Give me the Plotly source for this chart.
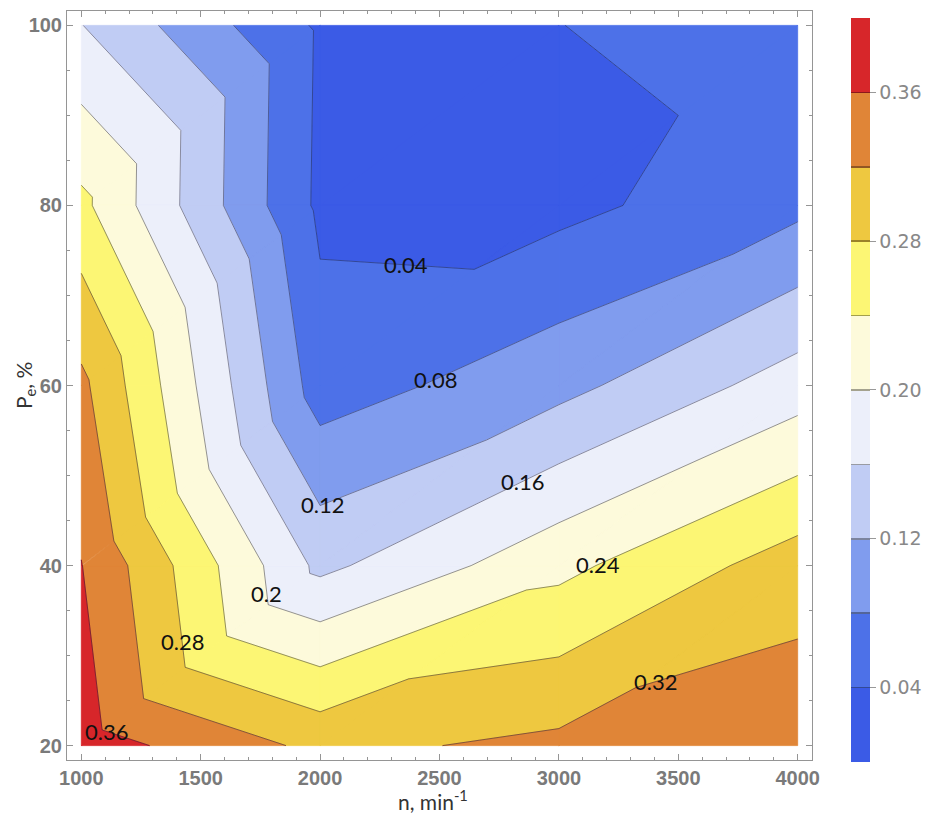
import plotly.graph_objects as go

# ---------------- data ----------------
n_rpm = [1000, 2000, 3000, 4000]          # x grid, min^-1
pe_pct = [20, 40, 60, 80, 100]            # y grid, %
# values per row of pe_pct (one value per n_rpm)
z_pe20 = [0.380, 0.310, 0.3295, 0.349]
z_pe40 = [0.361, 0.150, 0.229, 0.300]
z_pe60 = [0.3295, 0.060, 0.107, 0.180]
z_pe80 = [0.250, 0.0315, 0.029, 0.070]
z_pe100 = [0.161, 0.034, 0.0397, 0.051]
z_rows = [z_pe20, z_pe40, z_pe60, z_pe80, z_pe100]

levels = [0.04, 0.08, 0.12, 0.16, 0.20, 0.24, 0.28, 0.32, 0.36]
band_colors = ["#3b5be6", "#4d71e8", "#809cee", "#c0ccf4", "#eceffa",
               "#fdfadb", "#fcf674", "#eec840", "#e08537", "#d7262a"]
cb_tickvals = [0.04, 0.12, 0.20, 0.28, 0.36]
label_levels = [0.04, 0.08, 0.12, 0.16, 0.20, 0.24, 0.28, 0.32, 0.36]
label_at_n = [2358, 2483, 2010, 2847, 1777, 3165, 1422, 3403, 1104]

# ---------------- triangulation (linear interpolation on triangles) ----
triangles = []
for j in range(len(pe_pct) - 1):
    for i in range(len(n_rpm) - 1):
        LL = (n_rpm[i], pe_pct[j], z_rows[j][i])
        LR = (n_rpm[i + 1], pe_pct[j], z_rows[j][i + 1])
        UL = (n_rpm[i], pe_pct[j + 1], z_rows[j + 1][i])
        UR = (n_rpm[i + 1], pe_pct[j + 1], z_rows[j + 1][i + 1])
        triangles.append([LL, LR, UR])
        triangles.append([LL, UR, UL])


def clip(poly, level, keep_above):
    out = []
    m = len(poly)
    for k in range(m):
        P, Q = poly[k], poly[(k + 1) % m]
        pin = P[2] >= level if keep_above else P[2] <= level
        qin = Q[2] >= level if keep_above else Q[2] <= level
        if pin:
            out.append(P)
        if pin != qin:
            t = (level - P[2]) / (Q[2] - P[2])
            out.append((P[0] + t * (Q[0] - P[0]), P[1] + t * (Q[1] - P[1]), level))
    return out


fig = go.Figure()

bounds = [-1.0] + levels + [1.0]
for b in range(len(band_colors)):
    xs, ys = [], []
    for tri in triangles:
        poly = clip(tri, bounds[b], True)
        if len(poly) >= 3:
            poly = clip(poly, bounds[b + 1], False)
        if len(poly) >= 3:
            xs += [p[0] for p in poly] + [poly[0][0], None]
            ys += [p[1] for p in poly] + [poly[0][1], None]
    if xs:
        fig.add_trace(go.Scatter(x=xs, y=ys, mode="lines", fill="toself",
                                 fillcolor=band_colors[b],
                                 line=dict(color=band_colors[b], width=0.8),
                                 hoverinfo="skip", showlegend=False))

segments = {}
for L in levels:
    segs = []
    for tri in triangles:
        pts = []
        for k in range(3):
            P, Q = tri[k], tri[(k + 1) % 3]
            if (P[2] - L) * (Q[2] - L) < 0:
                t = (L - P[2]) / (Q[2] - P[2])
                pts.append((P[0] + t * (Q[0] - P[0]), P[1] + t * (Q[1] - P[1])))
        if len(pts) == 2:
            segs.append(pts)
    segments[L] = segs
    xs, ys = [], []
    for a, c in segs:
        xs += [a[0], c[0], None]
        ys += [a[1], c[1], None]
    fig.add_trace(go.Scatter(x=xs, y=ys, mode="lines",
                             line=dict(color="rgba(20,20,50,0.45)", width=1),
                             hoverinfo="skip", showlegend=False))

# contour labels, placed on their contour line
for L, xn in zip(label_levels, label_at_n):
    yv = None
    for a, c in segments[L]:
        lo, hi = sorted([a[0], c[0]])
        if lo <= xn <= hi and hi > lo:
            t = (xn - a[0]) / (c[0] - a[0])
            yv = a[1] + t * (c[1] - a[1])
            break
    if yv is not None:
        fig.add_annotation(x=xn, y=yv, text=f"{round(L, 2):g}", showarrow=False,
                           xanchor="center", yanchor="middle",
                           font=dict(family="Lato", size=22, color="#111"))

# colour bar (discrete bands with thin separating lines)
def darker(hexc, f=0.6):
    r, g, b = int(hexc[1:3], 16), int(hexc[3:5], 16), int(hexc[5:7], 16)
    return f"rgb({int(r*f)},{int(g*f)},{int(b*f)})"

cmax = 0.40
cs = []
nb = len(band_colors)
w = 0.0012
for b in range(nb):
    lo, hi = b / nb, (b + 1) / nb
    a = lo + (w if b > 0 else 0)
    e = hi - (w if b < nb - 1 else 0)
    cs.append([a, band_colors[b]])
    cs.append([e, band_colors[b]])
    if b < nb - 1:
        dc = darker(band_colors[b + 1], 0.65)
        cs.append([e, dc])
        cs.append([hi + w, dc])

zflat = [v for row in z_rows for v in row]
xflat = [x for _ in pe_pct for x in n_rpm]
yflat = [y for y in pe_pct for _ in n_rpm]
fig.add_trace(go.Scatter(
    x=xflat, y=yflat, mode="markers", hoverinfo="skip", showlegend=False,
    marker=dict(size=1, opacity=0, color=zflat, colorscale=cs, cmin=0, cmax=cmax,
                showscale=True,
                colorbar=dict(thickness=19, thicknessmode="pixels",
                              len=744, lenmode="pixels",
                              x=1.051, xanchor="left", xpad=0,
                              y=0.494, yanchor="middle", ypad=0,
                              tickvals=cb_tickvals,
                              ticktext=[f"{v:.2f}" for v in cb_tickvals],
                              ticks="outside", ticklen=6, tickcolor="#999",
                              tickfont=dict(family="DejaVu Sans", size=19, color="#888"),
                              outlinewidth=0))))

axis_common = dict(showgrid=False, zeroline=False, showline=True, linecolor="#959595",
                   linewidth=1, mirror="ticks", ticks="inside", ticklen=6,
                   tickcolor="#959595",
                   tickfont=dict(family="Liberation Sans", size=20, color="#7a7a7a",
                                 weight="bold"))

# figure sized to the 932x826 window minus the page's 8px body margin
fig.update_layout(
    width=916, height=810,
    margin=dict(l=59, r=111, t=3, b=58),
    plot_bgcolor="white", paper_bgcolor="white",
    xaxis=dict(range=[940, 4060], tickvals=[1000, 1500, 2000, 2500, 3000, 3500, 4000],
               minor=dict(ticks="inside", ticklen=3, dtick=100, tick0=1000,
                          tickcolor="#959595"),
               **axis_common),
    yaxis=dict(range=[18.4, 101.6], tickvals=[20, 40, 60, 80, 100],
               minor=dict(ticks="inside", ticklen=3, dtick=5, tick0=20,
                          tickcolor="#959595"),
               **axis_common),
)
fig.add_annotation(xref="paper", yref="paper", x=(433 - 67) / 746, y=(760 - 800) / 749,
                   xanchor="center", yanchor="middle",
                   text="n, min<sup>-1</sup>", showarrow=False,
                   font=dict(family="Lato", size=21, color="#333"))
fig.add_annotation(xref="paper", yref="paper", x=(25 - 67) / 746, y=(760 - 386) / 749,
                   xanchor="center", yanchor="middle",
                   text="P<sub>e</sub>, %", showarrow=False, textangle=-90,
                   font=dict(family="Lato", size=21, color="#333"))

fig.write_html("out.html")
